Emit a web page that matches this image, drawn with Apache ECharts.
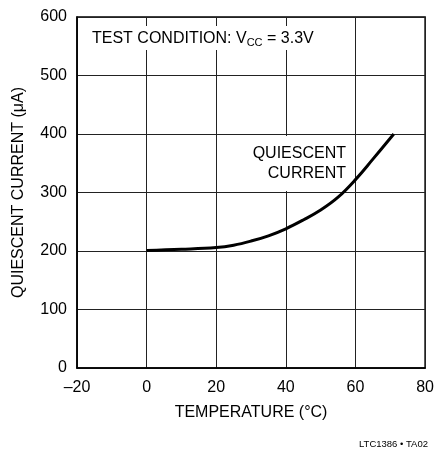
<!DOCTYPE html>
<html>
<head>
<meta charset="utf-8">
<script src="https://cdn.jsdelivr.net/npm/echarts@6/dist/echarts.min.js"></script>
<style>
  html, body { margin: 0; padding: 0; background: #fff; }
  #chart { width: 437px; height: 450px; }
</style>
</head>
<body>
<div id="chart"></div>
<script>
// quiescent current vs temperature
var temps = [0, 10, 20, 25, 30, 35, 40, 45, 50, 55, 60, 65, 71]
var current = [201, 203, 206, 210, 217, 226, 238, 253, 270, 292, 322, 357, 400]
var xTicks = [-20, 0, 20, 40, 60, 80]
var yTicks = [0, 100, 200, 300, 400, 500, 600]

var font = '"Liberation Sans", Arial, sans-serif'

var chart = echarts.init(document.getElementById('chart'))
chart.setOption({
  animation: false,
  backgroundColor: '#fff',
  textStyle: { fontFamily: font, color: '#000' },
  grid: {
    left: 77,
    top: 17,
    right: 8,
    bottom: 82,
    show: true,
    borderColor: '#000',
    borderWidth: 1.5
  },
  xAxis: {
    type: 'value',
    min: xTicks[0],
    max: xTicks[xTicks.length - 1],
    interval: 20,
    name: 'TEMPERATURE (°C)',
    nameLocation: 'middle',
    nameGap: 37,
    nameTextStyle: { fontFamily: font, fontSize: 16, color: '#000' },
    axisLine: { show: true, onZero: false, lineStyle: { color: '#000', width: 1.5 } },
    axisTick: { show: false },
    axisLabel: {
      fontFamily: font,
      fontSize: 16,
      color: '#000',
      margin: 12,
      formatter: function (v) { return v < 0 ? '\u2013' + Math.abs(v) : String(v) }
    },
    splitLine: { show: true, lineStyle: { color: '#222', width: 1 } }
  },
  yAxis: {
    type: 'value',
    min: yTicks[0],
    max: yTicks[yTicks.length - 1],
    interval: 100,
    name: 'QUIESCENT CURRENT (\u03BCA)',
    nameLocation: 'middle',
    nameGap: 50,
    nameTextStyle: { fontFamily: font, fontSize: 16, color: '#000' },
    axisLine: { show: true, onZero: false, lineStyle: { color: '#000', width: 1.5 } },
    axisTick: { show: false },
    axisLabel: { fontFamily: font, fontSize: 16, color: '#000', margin: 10 },
    splitLine: { show: true, lineStyle: { color: '#222', width: 1 } }
  },
  series: [{
    type: 'line',
    data: temps.map(function (t, i) { return [t, current[i]] }),
    smooth: 0.4,
    symbol: 'none',
    z: 5,
    lineStyle: { color: '#000', width: 3 }
  }],
  graphic: [
    {
      type: 'rect',
      left: 86,
      top: 26,
      shape: { width: 228, height: 24 },
      style: { fill: '#fff' },
      z: 1
    },
    {
      type: 'text',
      left: 92,
      top: 31,
      z: 6,
      style: {
        rich: {
          t: { fontFamily: font, fontSize: 16, fill: '#000' },
          s: { fontFamily: font, fontSize: 11, fill: '#000', padding: [7, 0, 0, 0] }
        },
        text: '{t|TEST CONDITION: V}{s|CC}{t| = 3.3V}'
      }
    },
    {
      type: 'rect',
      left: 250,
      top: 136,
      shape: { width: 97, height: 55 },
      style: { fill: '#fff' },
      z: 1
    },
    {
      type: 'text',
      right: 91,
      top: 144,
      z: 6,
      style: {
        text: 'QUIESCENT\nCURRENT',
        textAlign: 'right',
        fontFamily: font,
        fontSize: 16,
        lineHeight: 20,
        fill: '#000'
      }
    },
    {
      type: 'text',
      right: 9,
      top: 439,
      style: {
        text: 'LTC1386 \u2022 TA02',
        fontFamily: font,
        fontSize: 9.5,
        fill: '#000'
      }
    }
  ]
})
</script>
</body>
</html>
